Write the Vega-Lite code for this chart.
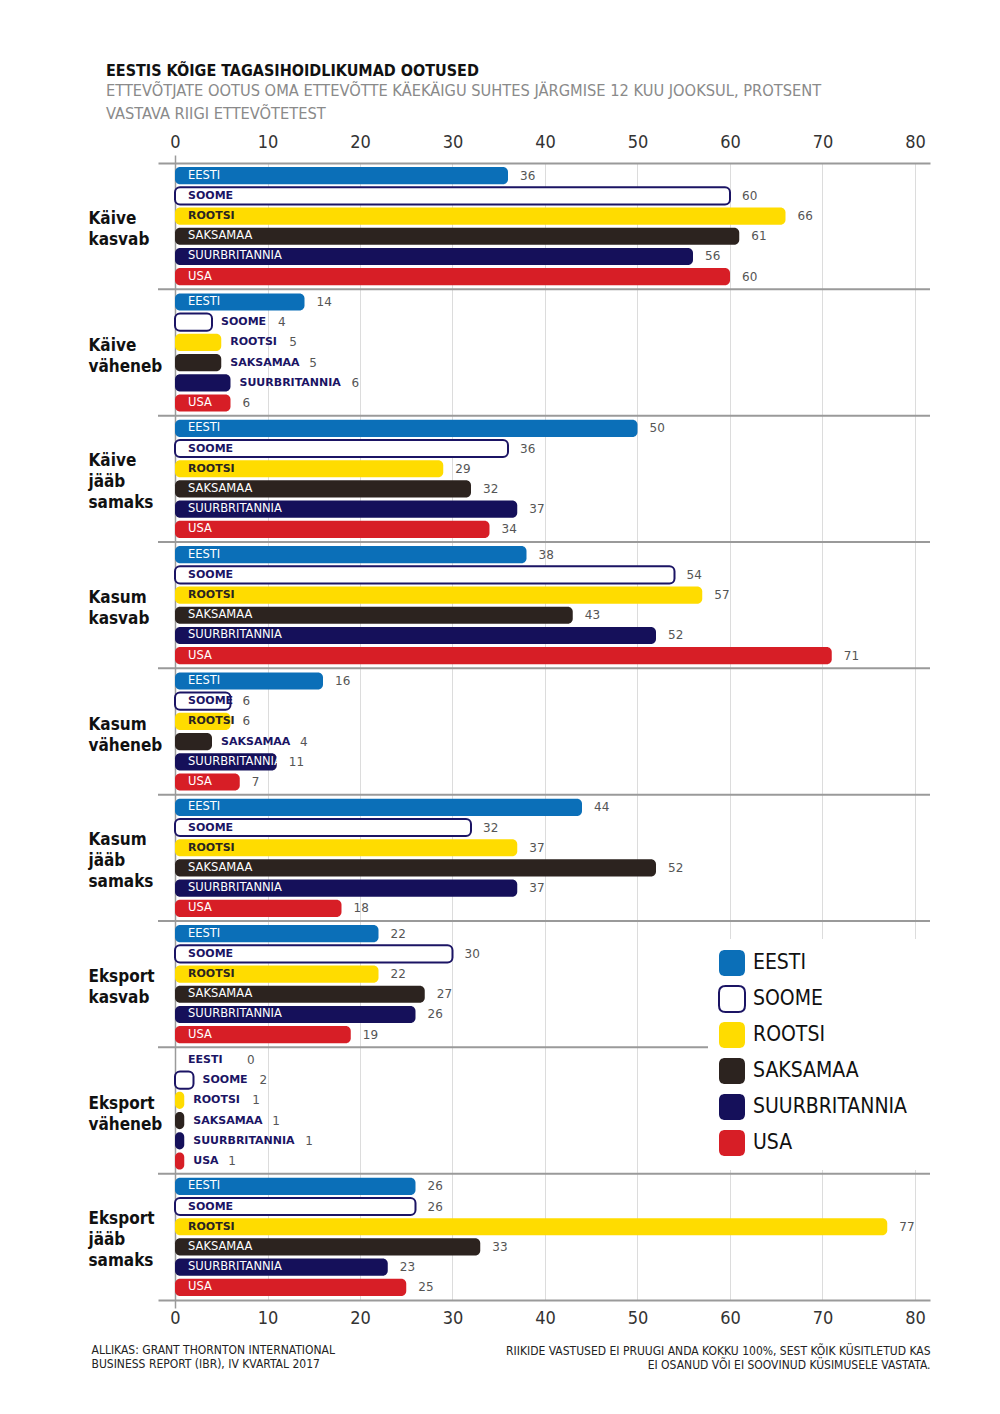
{
  "$schema": "https://vega.github.io/schema/vega-lite/v6.json",
  "width": 772,
  "height": 1137,
  "autosize": {"type": "none"},
  "padding": {"left": 158, "top": 163, "right": 70, "bottom": 114},
  "background": "white",
  "config": {"view": {"stroke": null}, "font": "DejaVu Sans Condensed, Roboto, sans-serif"},
  "title": {
    "text": "EESTIS KÕIGE TAGASIHOIDLIKUMAD OOTUSED",
    "subtitle": ["ETTEVÕTJATE OOTUS OMA ETTEVÕTTE KÄEKÄIGU SUHTES JÄRGMISE 12 KUU JOOKSUL, PROTSENT", "VASTAVA RIIGI ETTEVÕTETEST"],
    "anchor": "start",
    "frame": "group",
    "dx": -52,
    "offset": 11,
    "font": "DejaVu Sans Condensed, Roboto, sans-serif",
    "fontSize": 16,
    "fontWeight": "bold",
    "color": "#111111",
    "subtitleFont": "DejaVu Sans Condensed, Roboto, sans-serif",
    "subtitleFontSize": 16.3,
    "subtitleColor": "#8a8a8a",
    "subtitleLineHeight": 23,
    "subtitlePadding": 4
  },
  "data": {"values": [
    {"group": "Käive kasvab", "country": "EESTI", "pct": 36},
    {"group": "Käive kasvab", "country": "SOOME", "pct": 60},
    {"group": "Käive kasvab", "country": "ROOTSI", "pct": 66},
    {"group": "Käive kasvab", "country": "SAKSAMAA", "pct": 61},
    {"group": "Käive kasvab", "country": "SUURBRITANNIA", "pct": 56},
    {"group": "Käive kasvab", "country": "USA", "pct": 60},
    {"group": "Käive väheneb", "country": "EESTI", "pct": 14},
    {"group": "Käive väheneb", "country": "SOOME", "pct": 4},
    {"group": "Käive väheneb", "country": "ROOTSI", "pct": 5},
    {"group": "Käive väheneb", "country": "SAKSAMAA", "pct": 5},
    {"group": "Käive väheneb", "country": "SUURBRITANNIA", "pct": 6},
    {"group": "Käive väheneb", "country": "USA", "pct": 6},
    {"group": "Käive jääb samaks", "country": "EESTI", "pct": 50},
    {"group": "Käive jääb samaks", "country": "SOOME", "pct": 36},
    {"group": "Käive jääb samaks", "country": "ROOTSI", "pct": 29},
    {"group": "Käive jääb samaks", "country": "SAKSAMAA", "pct": 32},
    {"group": "Käive jääb samaks", "country": "SUURBRITANNIA", "pct": 37},
    {"group": "Käive jääb samaks", "country": "USA", "pct": 34},
    {"group": "Kasum kasvab", "country": "EESTI", "pct": 38},
    {"group": "Kasum kasvab", "country": "SOOME", "pct": 54},
    {"group": "Kasum kasvab", "country": "ROOTSI", "pct": 57},
    {"group": "Kasum kasvab", "country": "SAKSAMAA", "pct": 43},
    {"group": "Kasum kasvab", "country": "SUURBRITANNIA", "pct": 52},
    {"group": "Kasum kasvab", "country": "USA", "pct": 71},
    {"group": "Kasum väheneb", "country": "EESTI", "pct": 16},
    {"group": "Kasum väheneb", "country": "SOOME", "pct": 6},
    {"group": "Kasum väheneb", "country": "ROOTSI", "pct": 6},
    {"group": "Kasum väheneb", "country": "SAKSAMAA", "pct": 4},
    {"group": "Kasum väheneb", "country": "SUURBRITANNIA", "pct": 11},
    {"group": "Kasum väheneb", "country": "USA", "pct": 7},
    {"group": "Kasum jääb samaks", "country": "EESTI", "pct": 44},
    {"group": "Kasum jääb samaks", "country": "SOOME", "pct": 32},
    {"group": "Kasum jääb samaks", "country": "ROOTSI", "pct": 37},
    {"group": "Kasum jääb samaks", "country": "SAKSAMAA", "pct": 52},
    {"group": "Kasum jääb samaks", "country": "SUURBRITANNIA", "pct": 37},
    {"group": "Kasum jääb samaks", "country": "USA", "pct": 18},
    {"group": "Eksport kasvab", "country": "EESTI", "pct": 22},
    {"group": "Eksport kasvab", "country": "SOOME", "pct": 30},
    {"group": "Eksport kasvab", "country": "ROOTSI", "pct": 22},
    {"group": "Eksport kasvab", "country": "SAKSAMAA", "pct": 27},
    {"group": "Eksport kasvab", "country": "SUURBRITANNIA", "pct": 26},
    {"group": "Eksport kasvab", "country": "USA", "pct": 19},
    {"group": "Eksport väheneb", "country": "EESTI", "pct": 0},
    {"group": "Eksport väheneb", "country": "SOOME", "pct": 2},
    {"group": "Eksport väheneb", "country": "ROOTSI", "pct": 1},
    {"group": "Eksport väheneb", "country": "SAKSAMAA", "pct": 1},
    {"group": "Eksport väheneb", "country": "SUURBRITANNIA", "pct": 1},
    {"group": "Eksport väheneb", "country": "USA", "pct": 1},
    {"group": "Eksport jääb samaks", "country": "EESTI", "pct": 26},
    {"group": "Eksport jääb samaks", "country": "SOOME", "pct": 26},
    {"group": "Eksport jääb samaks", "country": "ROOTSI", "pct": 77},
    {"group": "Eksport jääb samaks", "country": "SAKSAMAA", "pct": 33},
    {"group": "Eksport jääb samaks", "country": "SUURBRITANNIA", "pct": 23},
    {"group": "Eksport jääb samaks", "country": "USA", "pct": 25}
  ]},
  "resolve": {"axis": {"x": "independent"}},
  "layer": [
    {
      "mark": {"type": "bar", "cornerRadius": 5, "strokeWidth": 2},
      "encoding": {
        "y": {"field": "group", "type": "nominal",
              "scale": {"domain": ["Käive kasvab", "Käive väheneb", "Käive jääb samaks", "Kasum kasvab", "Kasum väheneb", "Kasum jääb samaks", "Eksport kasvab", "Eksport väheneb", "Eksport jääb samaks"], "paddingInner": 0.04, "paddingOuter": 0.02},
              "axis": {
                "title": ["RIIKIDE VASTUSED EI PRUUGI ANDA KOKKU 100%, SEST KÕIK KÜSITLETUD KAS", "EI OSANUD VÕI EI SOOVINUD KÜSIMUSELE VASTATA."],
                "titleAngle": 0, "titleX": 772, "titleY": 1182, "titleAlign": "right", "titleBaseline": "top",
                "titleFont": "DejaVu Sans Condensed, Roboto, sans-serif", "titleFontSize": 12, "titleFontWeight": "normal", "titleColor": "#222222", "titleLineHeight": 14,
                "domain": false, "ticks": false, "tickSize": 0,
                "labelAlign": "left", "labelBaseline": "middle", "labelPadding": 70, "labelFont": "DejaVu Sans Condensed, Roboto, sans-serif", "labelFontSize": 17, "labelFontWeight": "bold", "labelColor": "#111111", "labelLineHeight": 21, "labelLimit": 0,
                "labelOffset": {"condition": {"test": "indexof(datum.label, 'jääb') >= 0", "value": -18}, "value": -7},
                "labelExpr": "split(datum.label, ' ')"
              }},
        "yOffset": {"field": "country", "type": "nominal",
                    "scale": {"domain": ["EESTI", "SOOME", "ROOTSI", "SAKSAMAA", "SUURBRITANNIA", "USA"], "paddingInner": 0.15, "paddingOuter": 0.075}},
        "x": {"field": "pct", "type": "quantitative",
              "scale": {"domain": [-1.838, 81.622], "nice": false, "zero": false},
              "axis": {
                "orient": "top", "values": [0, 10, 20, 30, 40, 50, 60, 70, 80], "title": null,
                "grid": true,
                "gridColor": {"condition": {"test": "datum.value === 0", "value": "#9a9a9a"}, "value": "#dcdcdc"},
                "gridWidth": {"condition": {"test": "datum.value === 0", "value": 1.5}, "value": 1},
                "domainColor": "#9a9a9a", "domainWidth": 2,
                "tickSize": 8, "tickWidth": 1.5,
                "tickColor": {"condition": {"test": "datum.value === 0", "value": "#9a9a9a"}, "value": "transparent"},
                "labelFont": "DejaVu Sans Condensed, Roboto, sans-serif", "labelFontSize": 18, "labelColor": "#333333", "labelPadding": 4, "labelFlush": false, "labelOverlap": false
              }},
        "x2": {"datum": 0},
        "fill": {"field": "country", "type": "nominal",
                 "scale": {"domain": ["EESTI", "SOOME", "ROOTSI", "SAKSAMAA", "SUURBRITANNIA", "USA"], "range": ["#0b6fb8", "#ffffff", "#ffdc00", "#2c231f", "#15105a", "#d71e26"]},
                 "legend": {"orient": "none", "legendX": 550, "legendY": 776, "title": ".", "titleOrient": "right", "titleColor": "white", "titleFontSize": 2, "titlePadding": 14, "fillColor": "white", "padding": 10,
                            "symbolType": "M-1,-0.5 C-1,-0.85 -0.85,-1 -0.5,-1 L0.5,-1 C0.85,-1 1,-0.85 1,-0.5 L1,0.5 C1,0.85 0.85,1 0.5,1 L-0.5,1 C-0.85,1 -1,0.85 -1,0.5 Z",
                            "symbolSize": 676, "symbolStrokeWidth": 2, "symbolOpacity": 1,
                            "labelFont": "DejaVu Sans Condensed, Roboto, sans-serif", "labelFontSize": 21, "labelColor": "#111111", "labelOffset": 7, "labelLimit": 0, "rowPadding": 2, "zindex": 1}},
        "stroke": {"field": "country", "type": "nominal",
                   "scale": {"domain": ["EESTI", "SOOME", "ROOTSI", "SAKSAMAA", "SUURBRITANNIA", "USA"], "range": ["transparent", "#1b1464", "transparent", "transparent", "transparent", "transparent"]},
                   "legend": {"orient": "none", "legendX": 550, "legendY": 776, "title": ".", "titleOrient": "right", "titleColor": "white", "titleFontSize": 2, "titlePadding": 14, "fillColor": "white", "padding": 10,
                            "symbolType": "M-1,-0.5 C-1,-0.85 -0.85,-1 -0.5,-1 L0.5,-1 C0.85,-1 1,-0.85 1,-0.5 L1,0.5 C1,0.85 0.85,1 0.5,1 L-0.5,1 C-0.85,1 -1,0.85 -1,0.5 Z",
                            "symbolSize": 676, "symbolStrokeWidth": 2, "symbolOpacity": 1,
                            "labelFont": "DejaVu Sans Condensed, Roboto, sans-serif", "labelFontSize": 21, "labelColor": "#111111", "labelOffset": 7, "labelLimit": 0, "rowPadding": 2, "zindex": 1}}
      }
    },
    {
      "transform": [{"filter": "datum.country === 'EESTI' && datum.group !== 'Käive kasvab'"}],
      "mark": {"type": "rule", "color": "#9a9a9a", "strokeWidth": 2, "yOffset": -2.53},
      "encoding": {
        "y": {"field": "group", "type": "nominal", "bandPosition": 0}
      }
    },
    {
      "transform": [{"filter": "!(datum.pct < 4 || (datum.pct < 6 && datum.country !== 'USA') || (datum.pct < 9 && (datum.country === 'SAKSAMAA' || datum.country === 'SUURBRITANNIA'))) && datum.country !== 'SOOME' && datum.country !== 'ROOTSI'"}],
      "mark": {"type": "text", "align": "left", "baseline": "middle", "dx": 13, "font": "DejaVu Sans", "fontSize": 11.5, "color": "white"},
      "encoding": {
        "y": {"field": "group", "type": "nominal"},
        "yOffset": {"field": "country", "type": "nominal"},
        "x": {"datum": 0, "type": "quantitative", "axis": null},
        "text": {"field": "country"}
      }
    },
    {
      "transform": [{"filter": "!(datum.pct < 4 || (datum.pct < 6 && datum.country !== 'USA') || (datum.pct < 9 && (datum.country === 'SAKSAMAA' || datum.country === 'SUURBRITANNIA'))) && (datum.country === 'SOOME' || datum.country === 'ROOTSI')"}],
      "mark": {"type": "text", "align": "left", "baseline": "middle", "dx": 13, "font": "DejaVu Sans", "fontSize": 11, "fontWeight": "bold"},
      "encoding": {
        "y": {"field": "group", "type": "nominal"},
        "yOffset": {"field": "country", "type": "nominal"},
        "x": {"datum": 0, "type": "quantitative", "axis": null},
        "text": {"field": "country"},
        "color": {"condition": {"test": "datum.country === 'SOOME'", "value": "#1b1464"}, "value": "#2a2420"}
      }
    },
    {
      "transform": [{"filter": "datum.pct < 4 || (datum.pct < 6 && datum.country !== 'USA') || (datum.pct < 9 && (datum.country === 'SAKSAMAA' || datum.country === 'SUURBRITANNIA'))"}],
      "mark": {"type": "text", "align": "left", "baseline": "middle", "dx": {"expr": "datum.pct === 0 ? 13 : 9"}, "font": "DejaVu Sans", "fontSize": 11, "fontWeight": "bold", "color": "#1b1464"},
      "encoding": {
        "y": {"field": "group", "type": "nominal"},
        "yOffset": {"field": "country", "type": "nominal"},
        "x": {"field": "pct", "type": "quantitative", "axis": null},
        "text": {"field": "country"}
      }
    },
    {
      "transform": [{"filter": "!(datum.pct < 4 || (datum.pct < 6 && datum.country !== 'USA') || (datum.pct < 9 && (datum.country === 'SAKSAMAA' || datum.country === 'SUURBRITANNIA')))"}],
      "mark": {"type": "text", "align": "left", "baseline": "middle", "dx": 12, "font": "DejaVu Sans", "fontSize": 12, "color": "#555555"},
      "encoding": {
        "y": {"field": "group", "type": "nominal"},
        "yOffset": {"field": "country", "type": "nominal"},
        "x": {"field": "pct", "type": "quantitative",
              "axis": {
                "orient": "bottom", "values": [0, 10, 20, 30, 40, 50, 60, 70, 80],
                "title": ["ALLIKAS: GRANT THORNTON INTERNATIONAL", "BUSINESS REPORT (IBR), IV KVARTAL 2017"],
                "titleX": -67, "titleY": 44, "titleAlign": "left", "titleAnchor": "start", "titleBaseline": "top",
                "titleFont": "DejaVu Sans Condensed, Roboto, sans-serif", "titleFontSize": 12, "titleFontWeight": "normal", "titleColor": "#222222", "titleLineHeight": 14,
                "grid": false,
                "domainColor": "#9a9a9a", "domainWidth": 2,
                "tickSize": 8, "tickWidth": 1.5,
                "tickColor": {"condition": {"test": "datum.value === 0", "value": "#9a9a9a"}, "value": "transparent"},
                "labelFont": "DejaVu Sans Condensed, Roboto, sans-serif", "labelFontSize": 18, "labelColor": "#333333", "labelPadding": 1, "labelFlush": false, "labelOverlap": false
              }},
        "text": {"field": "pct"}
      }
    },
    {
      "transform": [
        {"filter": "datum.pct < 4 || (datum.pct < 6 && datum.country !== 'USA') || (datum.pct < 9 && (datum.country === 'SAKSAMAA' || datum.country === 'SUURBRITANNIA'))"}
      ],
      "mark": {"type": "text", "align": "left", "baseline": "middle", "font": "DejaVu Sans", "fontSize": 12, "color": "#555555",
               "dx": {"expr": "datum.country === 'EESTI' ? 72 : datum.country === 'SOOME' ? 66 : datum.country === 'ROOTSI' ? 68 : datum.country === 'SAKSAMAA' ? 88 : datum.country === 'SUURBRITANNIA' ? 121 : 44"}},
      "encoding": {
        "y": {"field": "group", "type": "nominal"},
        "yOffset": {"field": "country", "type": "nominal"},
        "x": {"field": "pct", "type": "quantitative", "axis": null},
        "text": {"field": "pct"}
      }
    }
  ]
}
